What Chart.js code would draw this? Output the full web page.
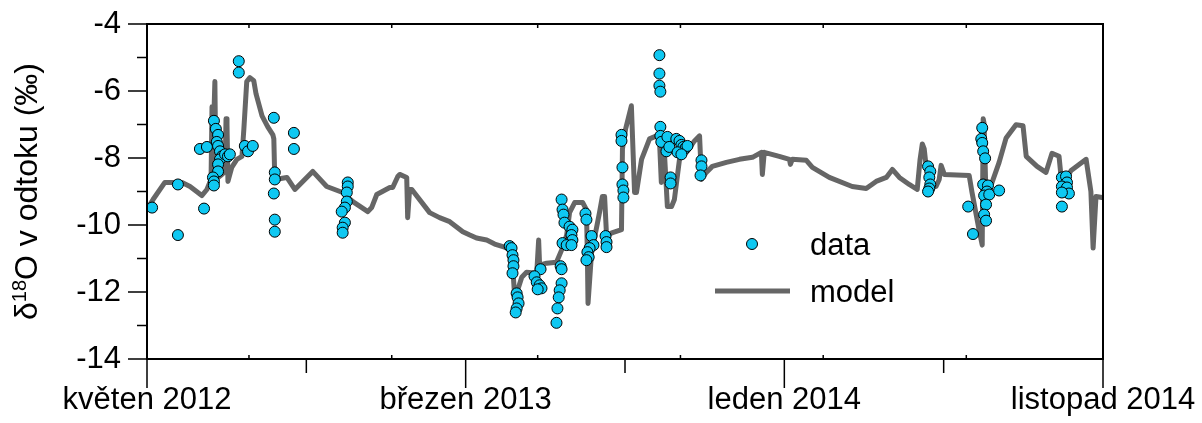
<!DOCTYPE html>
<html>
<head>
<meta charset="utf-8">
<script src="https://cdn.jsdelivr.net/npm/chart.js@4.4.1/dist/chart.umd.min.js"></script>
<style>
html, body { margin: 0; padding: 0; background: #fff; }
#wrap { width: 1202px; height: 423px; }
</style>
</head>
<body>
<div id="wrap"><canvas id="c" width="1202" height="423"></canvas></div>
<script>
// time axis in months since May 2012
const xMajorTicks = [0, 10, 20, 30];
const xTickLabels = ['květen 2012', 'březen 2013', 'leden 2014', 'listopad 2014'];
const xMinorTicks = [5, 15, 25];
const xInnerTicks = [3.2, 7.68, 12.26, 16.74, 21.22, 25.71];
const yMinorTicks = [-13, -11, -9, -7, -5];

// measured δ18O in runoff
const dataT = [
  0.16, 0.97, 0.97, 1.66, 1.88, 1.79, 2.10, 2.16, 2.23, 2.19,
  2.23, 2.29, 2.35, 2.29, 2.23, 2.23, 2.07, 2.10, 2.10, 2.45,
  2.54, 2.60, 2.88, 2.88, 3.07, 3.17, 3.32, 3.98, 4.01, 4.01,
  3.98, 4.01, 4.01, 4.61, 4.61, 6.30, 6.30, 6.27, 6.27, 6.21,
  6.11, 6.21, 6.14, 6.14, 11.38, 11.44, 11.47, 11.50, 11.50, 11.47,
  11.60, 11.63, 11.66, 11.60, 11.57, 12.35, 12.16, 12.23, 12.32, 12.38,
  12.26, 12.98, 13.01, 13.01, 12.95, 12.92, 12.88, 12.85, 13.01, 13.04,
  13.07, 13.10, 13.26, 13.35, 13.32, 13.35, 13.04, 13.17, 13.32, 13.76,
  13.79, 13.95, 14.01, 13.89, 13.82, 13.86, 13.79, 14.39, 14.42, 14.42,
  14.89, 14.89, 14.92, 14.92, 14.95, 14.95, 16.08, 16.08, 16.08, 16.11,
  16.11, 16.11, 16.14, 16.33, 16.30, 16.39, 16.43, 16.43, 16.61, 16.71,
  16.77, 16.83, 16.90, 16.96, 16.65, 16.77, 17.40, 17.40, 17.37, 24.51,
  24.58, 24.55, 24.58, 24.55, 24.51, 26.21, 26.18, 26.21, 26.24, 26.30,
  26.24, 26.39, 26.36, 26.27, 26.43, 26.33, 26.27, 26.33, 26.74, 25.77,
  25.92, 28.71, 28.84, 28.87, 28.71, 28.87, 28.93, 28.71, 28.71
];
const dataD18O = [
  -9.48, -8.79, -10.30, -7.73, -7.67, -9.51, -6.89, -7.13, -7.31, -7.52,
  -7.64, -7.80, -7.95, -8.04, -8.19, -8.40, -8.58, -8.70, -8.82, -7.89,
  -7.95, -7.89, -5.11, -5.45, -7.64, -7.80, -7.64, -6.80, -8.43, -8.64,
  -9.06, -9.84, -10.20, -7.25, -7.73, -8.73, -8.85, -9.03, -9.30, -9.48,
  -9.60, -9.93, -10.08, -10.23, -10.63, -10.69, -10.90, -11.05, -11.23, -11.44,
  -12.04, -12.16, -12.34, -12.49, -12.61, -11.32, -11.53, -11.71, -11.80, -11.89,
  -11.92, -11.23, -11.32, -11.74, -11.95, -12.16, -12.49, -12.92, -9.24, -9.54,
  -9.69, -9.93, -10.05, -10.14, -10.30, -10.45, -10.54, -10.60, -10.60, -9.66,
  -9.84, -10.33, -10.60, -10.69, -10.81, -10.96, -11.05, -10.33, -10.51, -10.66,
  -7.31, -7.49, -8.28, -8.79, -8.97, -9.18, -4.93, -5.48, -5.84, -6.02,
  -7.07, -7.34, -7.52, -7.37, -7.80, -7.67, -8.58, -8.76, -7.43, -7.49,
  -7.61, -7.67, -7.70, -7.64, -7.83, -7.89, -8.07, -8.25, -8.52, -8.25,
  -8.40, -8.58, -8.79, -8.91, -9.00, -7.10, -7.43, -7.55, -7.80, -8.01,
  -8.79, -8.82, -9.00, -9.12, -9.09, -9.39, -9.69, -9.87, -8.97, -9.45,
  -10.27, -8.58, -8.55, -8.73, -8.85, -8.88, -9.06, -9.03, -9.45
];

// modelled δ18O
const modelT = [
  0.09, 0.19, 0.56, 1.10, 1.35, 1.72, 1.88, 1.97, 2.01, 2.04,
  2.07, 2.13, 2.16, 2.23, 2.35, 2.45, 2.48, 2.51, 2.54, 2.66,
  2.82, 2.98, 3.04, 3.13, 3.23, 3.35, 3.42, 3.61, 3.79, 3.95,
  3.98, 4.01, 4.39, 4.64, 5.20, 5.64, 6.14, 6.46, 6.93, 7.05,
  7.21, 7.62, 7.71, 7.87, 7.93, 8.15, 8.18, 8.24, 8.31, 8.87,
  9.18, 9.50, 9.91, 10.13, 10.34, 10.66, 10.91, 11.22, 11.44, 11.54,
  11.63, 11.76, 11.91, 12.23, 12.29, 12.32, 12.54, 12.85, 13.01, 13.17,
  13.26, 13.42, 13.67, 13.79, 13.82, 13.84, 13.95, 14.20, 14.29, 14.36,
  14.42, 14.61, 14.89, 14.92, 15.02, 15.20, 15.30, 15.36, 15.52, 15.77,
  15.99, 16.08, 16.14, 16.24, 16.33, 16.46, 16.55, 16.71, 16.93, 17.18,
  17.34, 17.40, 17.55, 17.74, 18.18, 18.59, 19.00, 19.28, 19.31, 19.37,
  19.84, 20.16, 20.19, 20.25, 20.69, 20.88, 21.41, 22.13, 22.57, 22.88,
  23.20, 23.39, 23.61, 23.92, 24.17, 24.26, 24.33, 24.39, 24.45, 24.61,
  24.76, 24.86, 24.92, 25.02, 25.80, 25.89, 26.11, 26.21, 26.24, 26.27,
  26.33, 26.74, 26.96, 27.27, 27.49, 27.59, 27.93, 28.21, 28.40, 28.62,
  28.68, 28.84, 29.00, 29.47, 29.62, 29.69, 29.78, 29.97
];
const modelD18O = [
  -9.39, -9.24, -8.73, -8.73, -8.85, -9.12, -8.94, -8.73, -8.64, -6.47,
  -7.73, -5.72, -8.34, -8.58, -8.49, -8.40, -6.83, -6.98, -8.70, -8.28,
  -8.04, -7.95, -7.13, -5.72, -5.60, -5.69, -6.08, -6.74, -7.07, -7.31,
  -7.43, -8.64, -8.58, -8.94, -8.40, -8.85, -9.03, -9.30, -9.60, -9.48,
  -9.09, -8.88, -8.88, -8.55, -8.49, -8.58, -9.78, -8.94, -8.94, -9.63,
  -9.78, -9.90, -10.20, -10.30, -10.39, -10.45, -10.57, -10.66, -10.75, -12.16,
  -11.95, -11.56, -11.41, -11.44, -10.45, -11.20, -11.14, -11.11, -10.75, -10.30,
  -9.63, -9.33, -9.33, -9.54, -10.96, -12.34, -10.84, -9.63, -9.15, -9.15,
  -10.30, -10.23, -10.14, -7.73, -7.13, -6.44, -9.03, -9.03, -8.04, -7.43,
  -7.34, -7.43, -8.73, -7.89, -9.45, -9.45, -9.24, -8.04, -7.83, -7.49,
  -7.34, -8.64, -8.43, -8.25, -8.13, -8.04, -7.98, -7.83, -8.49, -7.83,
  -7.95, -8.04, -8.19, -8.04, -8.07, -8.28, -8.58, -8.85, -8.91, -8.70,
  -8.58, -8.34, -8.58, -8.79, -8.94, -8.04, -7.58, -7.73, -8.25, -8.85,
  -8.85, -8.64, -8.22, -8.49, -8.52, -9.03, -10.14, -10.60, -6.83, -6.98,
  -9.24, -8.13, -7.40, -7.01, -7.04, -7.95, -8.25, -8.43, -7.86, -7.95,
  -8.52, -8.64, -8.37, -8.04, -9.00, -10.69, -9.15, -9.18
];

const FONT = '"Liberation Sans", Arial, sans-serif';
const dotColor = '#0fc8f2';
const lineColor = '#666666';

const toPoints = (xs, ys) => xs.map((t, i) => ({ x: t, y: ys[i] }));

// frame, ticks, axis title and legend
const frame = {
  id: 'frame',
  afterDraw(chart) {
    const ctx = chart.ctx;
    const a = chart.chartArea;
    const sx = chart.scales.x, sy = chart.scales.y;
    ctx.save();
    ctx.strokeStyle = '#000';
    ctx.lineWidth = 2;
    ctx.strokeRect(a.left, a.top, a.right - a.left, a.bottom - a.top);

    ctx.lineWidth = 1.5;
    ctx.beginPath();
    sy.ticks.forEach(t => {
      const py = sy.getPixelForValue(t.value);
      ctx.moveTo(a.left - 19, py); ctx.lineTo(a.left, py);
    });
    yMinorTicks.forEach(v => {
      const py = sy.getPixelForValue(v);
      ctx.moveTo(a.left - 10, py); ctx.lineTo(a.left, py);
    });
    xMajorTicks.forEach(v => {
      const px = sx.getPixelForValue(v);
      ctx.moveTo(px, a.bottom); ctx.lineTo(px, a.bottom + 29);
    });
    xMinorTicks.forEach(v => {
      const px = sx.getPixelForValue(v);
      ctx.moveTo(px, a.bottom); ctx.lineTo(px, a.bottom + 14);
    });
    xInnerTicks.forEach(v => {
      const px = sx.getPixelForValue(v);
      ctx.moveTo(px, a.top); ctx.lineTo(px, a.top + 4);
      ctx.moveTo(px, a.bottom); ctx.lineTo(px, a.bottom - 4);
    });
    ctx.stroke();

    // y title with superscript 18
    ctx.fillStyle = '#000';
    ctx.textBaseline = 'alphabetic';
    const big = '32px ' + FONT, small = '20px ' + FONT;
    const p1 = 'δ', p2 = '18', p3 = 'O v odtoku (‰)';
    ctx.font = big; const w1 = ctx.measureText(p1).width, w3 = ctx.measureText(p3).width;
    ctx.font = small; const w2 = ctx.measureText(p2).width;
    const total = w1 + w2 + w3;
    ctx.save();
    ctx.translate(37, (a.top + a.bottom) / 2);
    ctx.rotate(-Math.PI / 2);
    let cx = -total / 2;
    ctx.font = big; ctx.fillText(p1, cx, 0); cx += w1;
    ctx.font = small; ctx.fillText(p2, cx, -11); cx += w2;
    ctx.font = big; ctx.fillText(p3, cx, 0);
    ctx.restore();

    // legend
    const legendFont = '31px ' + FONT;
    const lx = a.left + 605, ly = a.top + 220;
    ctx.beginPath();
    ctx.arc(lx, ly, 5.5, 0, Math.PI * 2);
    ctx.fillStyle = dotColor; ctx.fill();
    ctx.lineWidth = 1; ctx.strokeStyle = '#000'; ctx.stroke();
    ctx.beginPath();
    ctx.moveTo(lx - 37, ly + 47); ctx.lineTo(lx + 38, ly + 47);
    ctx.lineWidth = 5; ctx.strokeStyle = lineColor; ctx.stroke();
    ctx.fillStyle = '#000';
    ctx.font = legendFont;
    ctx.fillText('data', lx + 58, ly + 11);
    ctx.fillText('model', lx + 58, ly + 58);
    ctx.restore();
  }
};

new Chart(document.getElementById('c'), {
  type: 'scatter',
  data: {
    datasets: [
      {
        label: 'data',
        data: toPoints(dataT, dataD18O),
        pointRadius: 5.5,
        pointBackgroundColor: dotColor,
        pointBorderColor: '#000',
        pointBorderWidth: 1,
        order: 1
      },
      {
        label: 'model',
        data: toPoints(modelT, modelD18O),
        showLine: true,
        pointRadius: 0,
        borderColor: lineColor,
        borderWidth: 5,
        borderJoinStyle: 'round',
        borderCapStyle: 'round',
        tension: 0,
        order: 2
      }
    ]
  },
  options: {
    responsive: false,
    animation: false,
    devicePixelRatio: 1,
    layout: { padding: { top: 24, right: 99, left: 0, bottom: 0 } },
    plugins: { legend: { display: false }, tooltip: { enabled: false } },
    scales: {
      x: {
        type: 'linear',
        min: 0,
        max: 30,
        afterBuildTicks: s => { s.ticks = xMajorTicks.map(v => ({ value: v })); },
        afterFit: s => {
          s.height = 64;
          s.paddingLeft = 0; s.paddingRight = 0;
        },
        grid: { display: false, drawTicks: false },
        border: { display: false },
        ticks: {
          autoSkip: false,
          maxRotation: 0,
          padding: 23,
          color: '#000',
          font: { family: FONT, size: 31 },
          callback: (v, i) => xTickLabels[i]
        }
      },
      y: {
        min: -14,
        max: -4,
        afterFit: s => {
          s.width = 147;
          s.paddingTop = 0; s.paddingBottom = 0;
        },
        grid: { display: false, drawTicks: false },
        border: { display: false },
        ticks: {
          stepSize: 2,
          padding: 26,
          color: '#000',
          font: { family: FONT, size: 31 }
        }
      }
    }
  },
  plugins: [frame]
});
</script>
</body>
</html>
